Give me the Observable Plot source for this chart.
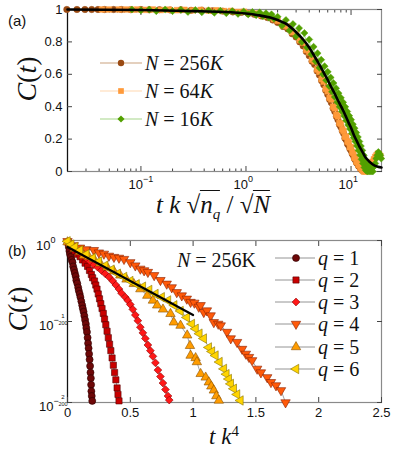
<!DOCTYPE html>
<html><head><meta charset="utf-8">
<script src="https://cdn.jsdelivr.net/npm/d3@7"></script>
<script src="https://cdn.jsdelivr.net/npm/@observablehq/plot@0.6"></script>
<style>
body{margin:0;background:#fff}
#wrap{position:relative;width:395px;height:451px;overflow:hidden;background:#fff}
.abs{position:absolute;white-space:nowrap;line-height:1}
.sans{font-family:"Liberation Sans",Arial,sans-serif;color:#111}
.math{font-family:"Liberation Serif","Times New Roman","DejaVu Serif",serif;color:#111}
.math i{font-style:italic}
.ov{display:inline-block;border-top:1.3px solid #111;padding-top:1px;line-height:1}
</style></head><body>
<div id="wrap">
  <div id="pa" class="abs" style="left:0;top:0"></div>
  <div id="pb" class="abs" style="left:0;top:230px"></div>
  <svg id="leg" class="abs" style="left:0;top:0" width="395" height="451"></svg>
  <div class="abs sans" style="left:8px;top:20px;transform:translateY(-50%);font-size:15px">(a)</div>
  <div class="abs sans" style="left:8px;top:250px;transform:translateY(-50%);font-size:15px">(b)</div>
  <div class="abs math" style="left:27px;top:79px;transform:translate(-50%,-50%) rotate(-90deg);font-size:28px"><i>C</i>(<i>t</i>)</div>
  <div class="abs math" style="left:18px;top:309px;transform:translate(-50%,-50%) rotate(-90deg);font-size:28px"><i>C</i>(<i>t</i>)</div>
  <div class="abs math" style="left:213px;top:206px;transform:translate(-50%,-50%);font-size:25px"><i>t</i> <i>k</i> √<span class="ov"><i>n</i><sub style="font-size:15px;font-style:italic">q</sub></span> / √<span class="ov"><i>N</i></span></div>
  <div class="abs math" style="left:224px;top:436px;transform:translate(-50%,-50%);font-size:23px"><i>t</i> <i>k</i><sup style="font-size:15px">4</sup></div>
  <div class="abs math" style="left:177px;top:260px;transform:translateY(-50%);font-size:20px"><i>N</i> = 256K</div>
</div>
<script>
// ---------- Panel (a) data: [t k sqrt(nq)/sqrt(N), C(t)] ----------
const seriesA = ["N = 256K", "N = 64K", "N = 16K"];
const brown256 = [[0.0197,1],[0.0246,1],[0.0293,1],[0.034,1],[0.039,1],[0.045,1],[0.055,1],[0.065,1],[0.08,0.999],[0.1,1],[0.12,0.998],[0.15,0.999],[0.19,0.997],[0.24,0.998],[0.3,0.995],[0.38,0.996],[0.48,0.992],[0.6,0.99],[0.75,0.985],[0.9,0.982],[1.05,0.975],[1.2,0.97],[1.4,0.96],[1.6,0.95],[1.8,0.935],
 [2.0,0.92],[2.25,0.895],[2.5,0.88],[2.75,0.85],[3.0,0.83],[3.25,0.8],[3.5,0.775],[3.75,0.74],[4.0,0.715],[4.25,0.68],[4.5,0.66],[4.75,0.62],[5.0,0.595],[5.25,0.56],[5.5,0.535],[5.75,0.5],[6.0,0.475],[6.25,0.445],[6.5,0.425],[6.75,0.39],[7.0,0.37],[7.25,0.34],[7.5,0.32],[7.75,0.29],[8.0,0.275],[8.25,0.25],[8.5,0.235],[8.75,0.205],[9.0,0.195],[9.25,0.17],[9.5,0.16],[9.75,0.14],[10.0,0.13],[10.25,0.11],[10.5,0.1],[10.75,0.08],[11.0,0.072],[11.25,0.055],[11.5,0.05],[11.75,0.035],[12.0,0.03],[12.25,0.02],[12.5,0.015],[12.75,0.008],[13.0,0.005]];
const orange64 = [[0.0425,1],[0.0496,1],[0.0617,1],[0.0719,1],[0.082,0.999],[0.093,1],[0.11,0.998],[0.13,1],[0.155,0.997],[0.185,0.999],[0.22,0.996],[0.26,0.998],[0.31,0.995],[0.37,0.997],[0.44,0.993],[0.52,0.995],[0.62,0.99],[0.72,0.991],[0.84,0.985],[0.96,0.986],[1.1,0.978],[1.25,0.975],[1.4,0.965],[1.55,0.96],[1.7,0.952],[1.85,0.94],
 [2.0,0.93],[2.25,0.9],[2.5,0.895],[2.75,0.86],[3.0,0.85],[3.25,0.81],[3.5,0.795],[3.75,0.75],[4.0,0.735],[4.25,0.69],[4.5,0.68],[4.75,0.63],[5.0,0.615],[5.25,0.57],[5.5,0.555],[5.75,0.51],[6.0,0.495],[6.25,0.455],[6.5,0.445],[6.75,0.4],[7.0,0.39],[7.25,0.35],[7.5,0.34],[7.75,0.3],[8.0,0.295],[8.25,0.26],[8.5,0.25],[8.75,0.215],[9.0,0.215],[9.25,0.185],[9.5,0.18],[9.75,0.15],[10.0,0.15],[10.25,0.12],[10.5,0.115],[10.75,0.085],[11.0,0.085],[11.25,0.06],[11.5,0.06],[11.75,0.04],[12.0,0.04],[12.25,0.022],[12.5,0.025],[12.75,0.01],[13.0,0.012],[13.25,0.0],[13.5,0.004],[13.75,0.0],[14.0,0.008],[14.5,0.015],[15.0,0.03],[15.5,0.045],[16.0,0.06],[16.5,0.075],[17.0,0.09],[17.5,0.1],[18.0,0.11],[18.5,0.105],[19.0,0.095]];
const green16 = [[0.082,1],[0.1,0.995],[0.12,1],[0.14,0.99],[0.17,1],[0.2,0.99],[0.24,0.998],[0.28,0.985],[0.33,0.997],[0.38,0.983],[0.44,0.995],[0.5,0.98],[0.57,0.993],[0.65,0.977],[0.74,0.99],[0.84,0.973],[0.95,0.988],[1.05,0.97],[1.15,0.985],[1.25,0.965],[1.35,0.982],[1.45,0.958],[1.55,0.977],[1.65,0.95],[1.75,0.97],[1.85,0.943],
 [2.0,0.955],[2.2,0.9],[2.4,0.935],[2.6,0.87],[2.8,0.91],[3.0,0.835],[3.2,0.885],[3.4,0.8],[3.6,0.855],[3.8,0.765],[4.0,0.815],[4.2,0.723],[4.4,0.77],[4.6,0.68],[4.8,0.73],[5.0,0.64],[5.2,0.69],[5.4,0.6],[5.6,0.65],[5.8,0.563],[6.0,0.615],[6.2,0.527],[6.4,0.58],[6.6,0.492],[6.8,0.546],[7.0,0.46],[7.2,0.514],[7.4,0.428],[7.6,0.483],[7.8,0.399],[8.0,0.455],[8.2,0.371],[8.4,0.427],[8.6,0.343],[8.8,0.399],[9.0,0.315],[9.2,0.37],[9.4,0.287],[9.6,0.344],[9.8,0.262],[10.0,0.32],[10.2,0.235],[10.4,0.292],[10.6,0.209],[10.8,0.267],[11.0,0.185],[11.2,0.24],[11.4,0.158],[11.6,0.213],[11.8,0.13],[12.0,0.185],[12.2,0.102],[12.4,0.157],[12.6,0.075],[12.8,0.13],[13.0,0.05],[13.2,0.1],[13.4,0.025],[13.6,0.075],[13.8,0.008],[14.0,0.05],[14.3,0.0],[14.6,0.04],[14.9,0.0],[15.2,0.03],[15.5,0.0],[15.8,0.02],[16.1,0.0],[16.5,0.03],[17.0,0.05],[17.4,0.08],[17.8,0.1],[18.2,0.12],[18.6,0.11],[19.0,0.1],[19.4,0.08]];
const fitA = [[0.02,1.0],[0.1,0.997],[0.3,0.99],[0.6,0.985],[1.0,0.975],[1.3,0.965],[1.7,0.95],[2.0,0.935],[2.5,0.905],[3.0,0.86],[3.5,0.815],[4.0,0.765],[4.5,0.71],[5.0,0.66],[5.5,0.61],[6.0,0.565],[6.5,0.52],[7.0,0.48],[7.5,0.44],[8.0,0.405],[8.5,0.37],[9.0,0.335],[9.5,0.3],[10,0.27],[10.5,0.235],[11,0.205],[11.5,0.18],[12,0.155],[12.5,0.135],[13,0.115],[13.5,0.095],[14,0.08],[14.5,0.07],[15,0.06],[16,0.045],[17,0.035],[18,0.03],[19.5,0.025]];
const aXDomain = [0.02, 19.5];
const aXMajor = [0.1, 1, 10];
const aXExp = ["\u22121", "0", "1"];
const aXMinor = [0.03,0.04,0.05,0.06,0.07,0.08,0.09,0.2,0.3,0.4,0.5,0.6,0.7,0.8,0.9,2,3,4,5,6,7,8,9];
const aYTicks = [0, 0.2, 0.4, 0.6, 0.8, 1];

// ---------- Panel (b) data: [t k^4, 200*log10 C(t)] ----------
const seriesB = ["q = 1","q = 2","q = 3","q = 4","q = 5","q = 6"];
const q1 = [[0.005,-0.03],[0.01,-0.08],[0.015,-0.13],[0.02,-0.17],[0.027,-0.2],[0.033,-0.24],[0.04,-0.27],[0.045,-0.32],[0.052,-0.36],[0.058,-0.4],[0.065,-0.44],[0.07,-0.49],[0.078,-0.53],[0.085,-0.58],[0.09,-0.62],[0.097,-0.66],[0.103,-0.7],[0.11,-0.75],[0.117,-0.8],[0.122,-0.84],[0.128,-0.88],[0.134,-0.93],[0.14,-0.98],[0.146,-1.03],[0.15,-1.08],[0.155,-1.13],[0.16,-1.2],[0.164,-1.27],[0.168,-1.33],[0.172,-1.4],[0.176,-1.47],[0.18,-1.55],[0.183,-1.63],[0.186,-1.7],[0.188,-1.78],[0.19,-1.86],[0.193,-1.92],[0.197,-1.98]];
const q2 = [[0.005,-0.03],[0.02,-0.06],[0.04,-0.1],[0.06,-0.13],[0.08,-0.17],[0.1,-0.2],[0.12,-0.24],[0.14,-0.28],[0.16,-0.32],[0.175,-0.37],[0.19,-0.42],[0.2,-0.46],[0.215,-0.5],[0.225,-0.55],[0.235,-0.6],[0.245,-0.66],[0.255,-0.72],[0.265,-0.78],[0.275,-0.84],[0.285,-0.9],[0.295,-0.97],[0.305,-1.04],[0.315,-1.12],[0.325,-1.2],[0.335,-1.28],[0.345,-1.36],[0.355,-1.45],[0.365,-1.54],[0.375,-1.63],[0.385,-1.72],[0.395,-1.82],[0.402,-1.9],[0.41,-1.98]];
const q3 = [[0.005,-0.02],[0.03,-0.06],[0.06,-0.1],[0.09,-0.14],[0.12,-0.18],[0.15,-0.22],[0.18,-0.26],[0.21,-0.3],[0.24,-0.33],[0.27,-0.37],[0.3,-0.41],[0.33,-0.45],[0.36,-0.5],[0.385,-0.55],[0.41,-0.6],[0.43,-0.65],[0.46,-0.7],[0.48,-0.74],[0.5,-0.79],[0.52,-0.85],[0.54,-0.92],[0.56,-0.99],[0.58,-1.07],[0.6,-1.14],[0.62,-1.21],[0.64,-1.29],[0.66,-1.36],[0.68,-1.43],[0.7,-1.51],[0.72,-1.6],[0.74,-1.68],[0.76,-1.76],[0.78,-1.84],[0.8,-1.92],[0.81,-1.97]];
const q4 = [[0.0,-0.01],[0.05,-0.06],[0.1,-0.09],[0.15,-0.11],[0.21,-0.12],[0.25,-0.15],[0.29,-0.165],[0.33,-0.19],[0.37,-0.205],[0.41,-0.215],[0.45,-0.23],[0.5,-0.27],[0.54,-0.31],[0.58,-0.35],[0.61,-0.37],[0.64,-0.39],[0.69,-0.43],[0.74,-0.49],[0.79,-0.535],[0.83,-0.58],[0.87,-0.64],[0.91,-0.68],[0.95,-0.72],[0.98,-0.76],[1.01,-0.77],[1.045,-0.82],[1.06,-0.8],[1.085,-0.885],[1.11,-0.865],[1.14,-0.926],[1.165,-1.01],[1.2,-1.03],[1.22,-1.05],[1.27,-1.13],[1.3,-1.21],[1.35,-1.255],[1.39,-1.34],[1.42,-1.4],[1.445,-1.44],[1.47,-1.48],[1.51,-1.585],[1.54,-1.63],[1.59,-1.69],[1.62,-1.75],[1.66,-1.79],[1.7,-1.85],[1.736,-2.0]];
const q5 = [[0.0,-0.02],[0.024,-0.04],[0.06,-0.1],[0.1,-0.14],[0.13,-0.185],[0.17,-0.2],[0.21,-0.226],[0.26,-0.28],[0.316,-0.33],[0.37,-0.38],[0.42,-0.43],[0.47,-0.48],[0.528,-0.535],[0.58,-0.6],[0.635,-0.68],[0.68,-0.74],[0.714,-0.8],[0.76,-0.85],[0.82,-0.905],[0.846,-1.01],[0.9,-1.05],[0.953,-1.17],[0.975,-1.3],[0.98,-1.42],[1.02,-1.45],[1.03,-1.5],[1.06,-1.646],[1.1,-1.69],[1.125,-1.75],[1.145,-1.8],[1.165,-1.85],[1.185,-1.92],[1.205,-1.975]];
const q6 = [[0.0,-0.01],[0.03,-0.05],[0.06,-0.08],[0.1,-0.12],[0.15,-0.17],[0.2,-0.22],[0.25,-0.26],[0.3,-0.31],[0.35,-0.36],[0.4,-0.41],[0.45,-0.45],[0.5,-0.5],[0.55,-0.54],[0.6,-0.57],[0.65,-0.61],[0.7,-0.66],[0.75,-0.7],[0.8,-0.74],[0.85,-0.8],[0.9,-0.87],[0.95,-0.95],[0.99,-1.03],[1.02,-1.09],[1.05,-1.15],[1.085,-1.21],[1.125,-1.32],[1.15,-1.37],[1.178,-1.42],[1.21,-1.5],[1.245,-1.585],[1.265,-1.65],[1.284,-1.71],[1.3,-1.77],[1.324,-1.83],[1.35,-1.9],[1.377,-1.975]];
const fitB = [[0,-0.08],[1.0,-0.92]];
const bXTicks = [0, 0.5, 1, 1.5, 2, 2.5];
const bYTicks = [0, -1, -2];
const bYExpNum = ["0", "1", "2"];

// ---------- styles ----------
const aStyle = [
  {data: brown256, symbol: "circle", fill: "#9a4a12", line: "#c9a27f", rot: 0},
  {data: orange64, symbol: "square", fill: "#ff9a3a", line: "#ffd7b0", rot: 0},
  {data: green16, symbol: "diamond2", fill: "#52a000", line: "#a6d68a", rot: 0}
];
const bStyle = [
  {data: q1, symbol: "circle", fill: "#6e0808", stroke: "#2a0000", rot: 0},
  {data: q2, symbol: "square", fill: "#c80000", stroke: "#550000", rot: 0},
  {data: q3, symbol: "diamond2", fill: "#ff1818", stroke: "#880000", rot: 0},
  {data: q4, symbol: "triangle", fill: "#ff5a0a", stroke: "#8a2000", rot: 180},
  {data: q5, symbol: "triangle", fill: "#ff9c00", stroke: "#8a5000", rot: 0},
  {data: q6, symbol: "triangle", fill: "#ffd400", stroke: "#8a7400", rot: -90}
];

const tickCol = "#111";
const frameCol = "#8a8a8a";

const pa = Plot.plot({
  width: 395, height: 230,
  marginLeft: 67, marginRight: 14, marginTop: 9, marginBottom: 59,
  style: {fontFamily: "Liberation Sans, Arial, sans-serif", fontSize: "13px", background: "transparent", overflow: "visible"},
  x: {type: "log", domain: aXDomain},
  y: {domain: [0, 1]},
  marks: [
    Plot.frame({stroke: frameCol, strokeWidth: 1.2}),
    Plot.ruleX([aXDomain[0]], {stroke: "#111", strokeWidth: 1.2}),
    Plot.axisX(aXMajor, {anchor: "bottom", tickSize: -5, tickFormat: () => "", label: null, stroke: "#444"}),
    Plot.axisX(aXMajor, {anchor: "top", tickSize: -5, tickFormat: () => "", label: null, stroke: "#444"}),
    Plot.axisX(aXMinor, {anchor: "bottom", tickSize: -2.5, tickFormat: () => "", label: null, stroke: "#444"}),
    Plot.axisX(aXMinor, {anchor: "top", tickSize: -2.5, tickFormat: () => "", label: null, stroke: "#444"}),
    Plot.axisY(aYTicks, {anchor: "left", tickSize: -5, tickFormat: () => "", label: null, stroke: "#444"}),
    Plot.axisY(aYTicks, {anchor: "right", tickSize: -5, tickFormat: () => "", label: null, stroke: "#444"}),
    Plot.text(aXMajor, {x: d => d, frameAnchor: "bottom", dy: 17, dx: 2, text: () => "10", textAnchor: "end", fontSize: 13, fill: tickCol}),
    Plot.text(aXMajor, {x: d => d, frameAnchor: "bottom", dy: 10, dx: 2, text: (d, i) => aXExp[i], textAnchor: "start", fontSize: 9, fill: tickCol}),
    Plot.text(aYTicks, {y: d => d, frameAnchor: "left", dx: -5, text: d => String(d), textAnchor: "end", fontSize: 13, fill: tickCol}),
    ...aStyle.flatMap(s => [
      Plot.line(s.data, {x: d => d[0], y: d => d[1], stroke: s.line, strokeWidth: 1}),
      Plot.dot(s.data, {x: d => d[0], y: d => d[1], symbol: s.symbol, r: 3.2, fill: s.fill, stroke: s.fill, strokeWidth: 0.5})
    ]),
    Plot.line(fitA, {x: d => d[0], y: d => d[1], stroke: "#000", strokeWidth: 2.6, curve: "monotone-x"})
  ]
});
document.getElementById("pa").appendChild(pa);

const pb = Plot.plot({
  width: 395, height: 221,
  marginLeft: 67, marginRight: 14, marginTop: 10, marginBottom: 49,
  style: {fontFamily: "Liberation Sans, Arial, sans-serif", fontSize: "13px", background: "transparent", overflow: "visible"},
  x: {domain: [0, 2.5]},
  y: {domain: [-2, 0]},
  marks: [
    Plot.frame({stroke: frameCol, strokeWidth: 1.2}),
    Plot.ruleX([0], {stroke: "#111", strokeWidth: 1.2}),
    Plot.axisX(bXTicks, {anchor: "bottom", tickSize: -5, tickFormat: () => "", label: null, stroke: "#444"}),
    Plot.axisX(bXTicks, {anchor: "top", tickSize: -5, tickFormat: () => "", label: null, stroke: "#444"}),
    Plot.axisY(bYTicks, {anchor: "left", tickSize: -5, tickFormat: () => "", label: null, stroke: "#444"}),
    Plot.axisY(bYTicks, {anchor: "right", tickSize: -5, tickFormat: () => "", label: null, stroke: "#444"}),
    Plot.text(bXTicks, {x: d => d, frameAnchor: "bottom", dy: 14, text: d => String(d), fontSize: 13, fill: tickCol}),
    Plot.text(bYTicks, {filter: d => d === 0, y: d => d, frameAnchor: "left", dx: -17, dy: 5, text: () => "10", textAnchor: "end", fontSize: 13, fill: tickCol}),
    Plot.text(bYTicks, {filter: d => d === 0, y: d => d, frameAnchor: "left", dx: -17, dy: 0, text: () => bYExpNum[0], textAnchor: "start", fontSize: 9, fill: tickCol}),
    Plot.text(bYTicks, {filter: d => d !== 0, y: d => d, frameAnchor: "left", dx: -14, dy: 4, text: () => "10", textAnchor: "end", fontSize: 13, fill: tickCol}),
    Plot.text(bYTicks, {filter: d => d !== 0, y: d => d, frameAnchor: "left", dx: -14, dy: -1.5, text: () => "\u2212", textAnchor: "start", fontSize: 9, fill: tickCol}),
    Plot.text(bYTicks, {filter: d => d !== 0, y: d => d, frameAnchor: "left", dx: -4.5, dy: -5.5, text: d => bYExpNum[bYTicks.indexOf(d)], textAnchor: "middle", fontSize: 6, fill: tickCol}),
    Plot.text(bYTicks, {filter: d => d !== 0, y: d => d, frameAnchor: "left", dx: -4.5, dy: 1.5, text: () => "200", textAnchor: "middle", fontSize: 5.5, fill: tickCol}),
    ...bStyle.flatMap(s => [
      Plot.line(s.data, {x: d => d[0], y: d => d[1], stroke: "#7a7a7a", strokeWidth: 0.7}),
      Plot.dot(s.data, {x: d => d[0], y: d => d[1], symbol: s.symbol, r: 3.5, fill: s.fill, stroke: s.stroke, strokeWidth: 0.6, rotate: s.rot})
    ]),
    Plot.line(fitB, {x: d => d[0], y: d => d[1], stroke: "#000", strokeWidth: 2.2})
  ]
});
document.getElementById("pb").appendChild(pb);

// ---------- legends ----------
const leg = d3.select("#leg");
const symMap = {circle: d3.symbolCircle, square: d3.symbolSquare, diamond2: d3.symbolDiamond2, triangle: d3.symbolTriangle};
const wrap = document.getElementById("wrap");
const legA = {x0: 100, x1: 142, xm: 121, y: [63, 91, 119], tx: 145};
aStyle.forEach((s, i) => {
  const y = legA.y[i];
  leg.append("line").attr("x1", legA.x0).attr("x2", legA.x1).attr("y1", y).attr("y2", y).attr("stroke", s.line).attr("stroke-width", 1.2);
  leg.append("path").attr("d", d3.symbol(symMap[s.symbol], Math.PI * 3.2 * 3.2)()).attr("transform", `translate(${legA.xm},${y})`).attr("fill", s.fill);
  const parts = seriesA[i].split(" = ");
  const div = document.createElement("div");
  div.className = "abs math";
  div.style.cssText = `left:${legA.tx}px;top:${y}px;transform:translateY(-50%);font-size:20px`;
  div.innerHTML = `<i>N</i> = ${parts[1].replace("K", "<i>K</i>")}`;
  wrap.appendChild(div);
});
const legB = {x0: 275, x1: 315, xm: 296, y: [258, 280, 302, 324, 347, 369], tx: 318};
bStyle.forEach((s, i) => {
  const y = legB.y[i];
  leg.append("line").attr("x1", legB.x0).attr("x2", legB.x1).attr("y1", y).attr("y2", y).attr("stroke", "#7a7a7a").attr("stroke-width", 0.8);
  leg.append("path").attr("d", d3.symbol(symMap[s.symbol], Math.PI * 3.5 * 3.5)()).attr("transform", `translate(${legB.xm},${y}) rotate(${s.rot})`).attr("fill", s.fill).attr("stroke", s.stroke).attr("stroke-width", 0.6);
  const parts = seriesB[i].split(" = ");
  const div = document.createElement("div");
  div.className = "abs math";
  div.style.cssText = `left:${legB.tx}px;top:${y}px;transform:translateY(-50%);font-size:20px`;
  div.innerHTML = `<i>q</i> = ${parts[1]}`;
  wrap.appendChild(div);
});
</script>
</body></html>
